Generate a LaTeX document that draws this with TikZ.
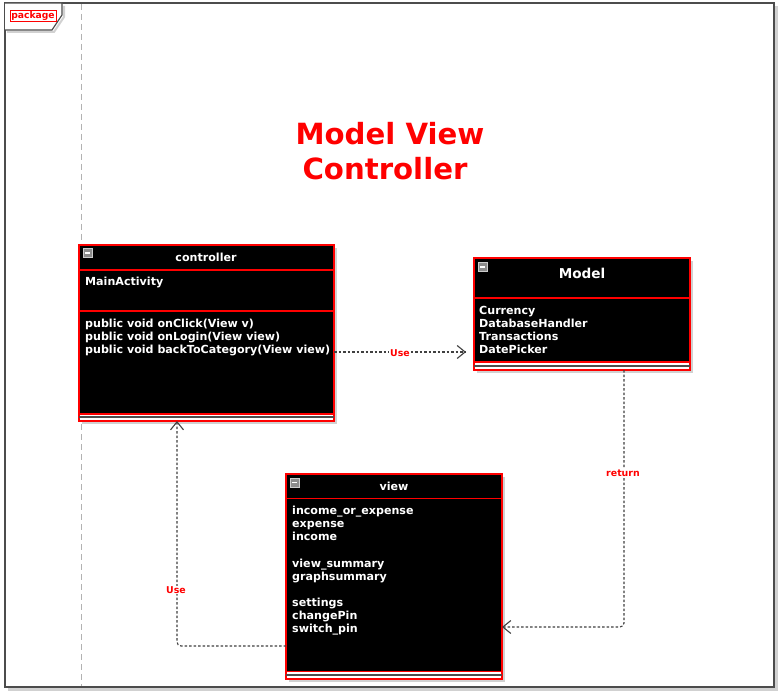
\documentclass[tikz,border=0pt]{standalone}
\usepackage{fontspec}
\setmainfont{DejaVu Sans}
\usetikzlibrary{arrows.meta,calc}
\begin{document}
\begin{tikzpicture}[x=1pt,y=-1pt,
  shadowbox/.style={fill=black!18,draw=none},
  classnode/.style={fill=black,draw=red,line width=1.3pt,inner sep=0,outer sep=0,anchor=north west},
  sep/.style={draw=red,line width=1.3pt},
  emptycomp/.style={fill=white,draw=red,line width=1.1pt},
  midline/.style={draw=black!70,line width=1.8pt},
  item/.style={anchor=base west,text=white,inner sep=0,font=\bfseries\fontsize{11.1}{12}\selectfont},
  head/.style={anchor=base,text=white,inner sep=0,font=\bfseries\fontsize{11.1}{12}\selectfont},
  iconbox/.style={fill=black!45,draw=black!20,line width=0.6pt},
  dep/.style={draw=black!75,line width=1.1pt,dash pattern=on 2.5pt off 2pt,rounded corners=4pt,
     -{Straight Barb[length=8pt,width=13pt,line width=1.1pt]}},
  lbl/.style={text=red,fill=white,inner sep=0.8pt,font=\bfseries\fontsize{9.4}{10}\selectfont},
  titletxt/.style={anchor=base,text=red,inner sep=0,font=\bfseries\fontsize{29.2}{30}\selectfont}]
\useasboundingbox (0,0) rectangle (779,695);
\fill[white] (0,0) rectangle (779,695);

% outer package frame
\draw[black!18,line width=2.4pt] (8,689.5) -- (776.5,689.5) -- (776.5,6);
\draw[black!70,line width=1.5pt] (5,3) rectangle (774,687);
\draw[black!30,line width=1pt,dash pattern=on 6pt off 4pt] (81,4) -- (81,686);
\draw[black!18,line width=2pt] (64,6) -- (64,17) -- (54,32) -- (7,32);
\draw[black!70,line width=1.2pt,fill=white] (5,3) -- (62,3) -- (62,15) -- (52,30) -- (5,30);
\node[draw=red,text=red,line width=0.8pt,inner sep=1.2pt,font=\bfseries\fontsize{9.2}{10}\selectfont] (pkg) at (33,15.8) {package};

% title
\node[titletxt] (title1) at (390,145) {Model View};
\node[titletxt] (title2) at (385,180) {Controller};

% ---------- controller ----------
\fill[shadowbox] (82,248) rectangle (337,424);
\node[classnode,minimum width=255,minimum height=176] (ctrl) at (79,245) {};
\draw[sep] (79,270) -- (334,270);
\draw[sep] (79,311) -- (334,311);
\draw[emptycomp] (79,414) rectangle (334,421);
\draw[midline] (79,417.3) -- (334,417.3);
\draw[iconbox] (83,248.5) rectangle (92,257.5);
\draw[white,line width=1.3pt] (85,253) -- (90,253);
\node[head] (ctrlh) at (206,261.7) {controller};
\node[item] (c1) at (85,285.5) {MainActivity};
\node[item] (c2) at (85,327) {public void onClick(View v)};
\node[item] (c3) at (85,340.2) {public void onLogin(View view)};
\node[item] (c4) at (85,353.4) {public void backToCategory(View view)};

% ---------- Model ----------
\fill[shadowbox] (477,261) rectangle (693,373);
\node[classnode,minimum width=216,minimum height=112] (model) at (474,258) {};
\draw[sep] (474,298) -- (690,298);
\draw[emptycomp] (474,362) rectangle (690,370);
\draw[midline] (474,366) -- (690,366);
\draw[iconbox] (478,262.5) rectangle (487,271.5);
\draw[white,line width=1.3pt] (480,267) -- (485,267);
\node[head,font=\bfseries\fontsize{13.6}{14}\selectfont] (modelh) at (582,278.3) {Model};
\node[item] (m1) at (479,314) {Currency};
\node[item] (m2) at (479,327.2) {DatabaseHandler};
\node[item] (m3) at (479,340.4) {Transactions};
\node[item] (m4) at (479,353.6) {DatePicker};

% ---------- view ----------
\fill[shadowbox] (289,477) rectangle (505,682);
\node[classnode,minimum width=216,minimum height=205] (view) at (286,474) {};
\draw[sep] (286,498.5) -- (502,498.5);
\draw[emptycomp] (286,671.5) rectangle (502,679);
\draw[midline] (286,675.3) -- (502,675.3);
\draw[iconbox] (290,478) rectangle (299,487);
\draw[white,line width=1.3pt] (292,482.5) -- (297,482.5);
\node[head] (viewh) at (394,490.5) {view};
\node[item] (v1) at (292,514.6) {income\_or\_expense};
\node[item] (v2) at (292,527.7) {expense};
\node[item] (v3) at (292,540.8) {income};
\node[item] (v4) at (292,567) {view\_summary};
\node[item] (v5) at (292,580.2) {graphsummary};
\node[item] (v6) at (292,606.5) {settings};
\node[item] (v7) at (292,619.6) {changePin};
\node[item] (v8) at (292,632.7) {switch\_pin};

% ---------- connectors ----------
\coordinate (useend) at ($(model.west |- 0,352)+(-8,0)$);
\draw[dep] (ctrl.east |- 0,352) -- (useend);
\node[lbl] (use1) at (400,353.5) {Use};

\draw[dep] (model.south -| 624,0) -- (624,627) -- (view.east |- 0,627);
\node[lbl] (ret) at (623,473.5) {return};

\draw[dep] (view.west |- 0,646) -- (177,646) -- (ctrl.south -| 177,0);
\node[lbl] (use2) at (176,590) {Use};
\end{tikzpicture}
\end{document}
